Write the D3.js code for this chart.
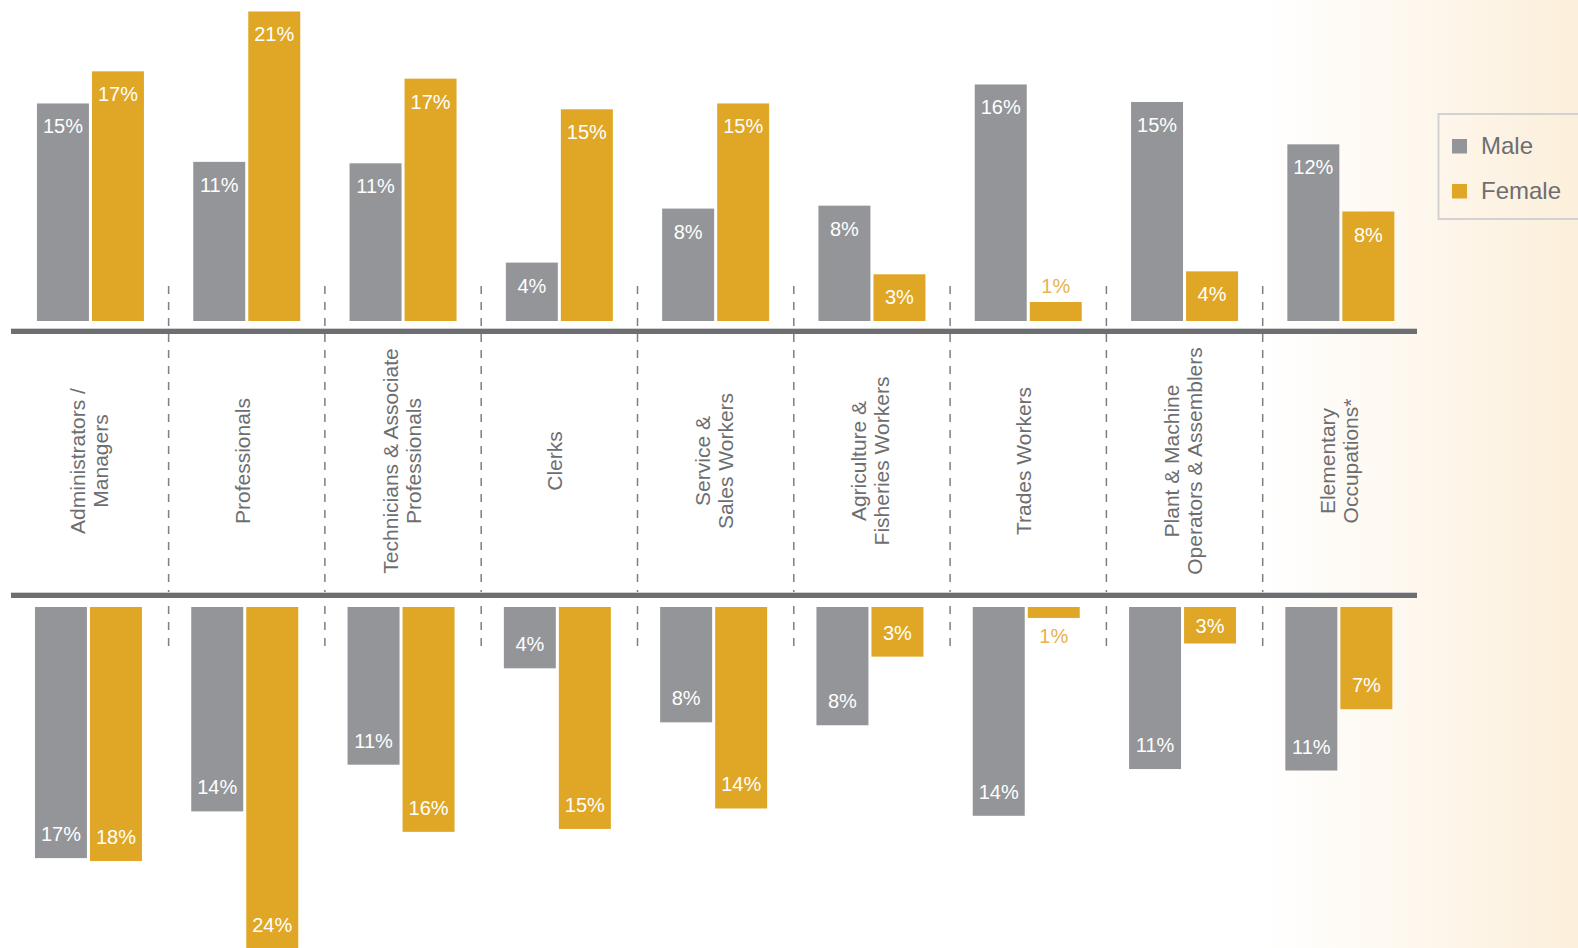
<!DOCTYPE html>
<html>
<head>
<meta charset="utf-8">
<script src="https://cdn.jsdelivr.net/npm/d3@7"></script>
<style>
  body { margin: 0; background: #fff; }
  svg { display: block; font-family: 'Liberation Sans', Arial, Helvetica, sans-serif; }
</style>
</head>
<body>
<svg width="1578" height="948"></svg>
<script>
// Occupations (label lines split with |)
const categories = [
  'Administrators /|Managers',
  'Professionals',
  'Technicians & Associate|Professionals',
  'Clerks',
  'Service &|Sales Workers',
  'Agriculture &|Fisheries Workers',
  'Trades Workers',
  'Plant & Machine|Operators & Assemblers',
  'Elementary|Occupations*'
];
const seriesKeys = ['Male', 'Female'];

// Upper panel (bar heights, %) and printed labels
const topMale = [14.9, 10.9, 10.8, 4.0, 7.7, 7.9, 16.2, 15.0, 12.1];
const topFemale = [17.1, 21.2, 16.6, 14.5, 14.9, 3.2, 1.3, 3.4, 7.5];
const topMaleLabels = ['15%', '11%', '11%', '4%', '8%', '8%', '16%', '15%', '12%'];
const topFemaleLabels = ['17%', '21%', '17%', '15%', '15%', '3%', '1%', '4%', '8%'];

// Lower panel (bar heights, %) and printed labels
const bottomMale = [17.2, 14.0, 10.8, 4.2, 7.9, 8.1, 14.3, 11.1, 11.2];
const bottomFemale = [17.4, 23.4, 15.4, 15.2, 13.8, 3.4, 0.75, 2.5, 7.0];
const bottomMaleLabels = ['17%', '14%', '11%', '4%', '8%', '8%', '14%', '11%', '11%'];
const bottomFemaleLabels = ['18%', '24%', '16%', '15%', '14%', '3%', '1%', '3%', '7%'];

const colors = { Male: '#939598', Female: '#dfa725' };

const svg = d3.select('svg');
const W = +svg.attr('width');
const H = +svg.attr('height');

// Background fade on the right
const defs = svg.append('defs');
const grad = defs
  .append('linearGradient')
  .attr('id', 'bg')
  .attr('x1', 0)
  .attr('x2', 1)
  .attr('y1', 0)
  .attr('y2', 0);
grad.append('stop').attr('offset', 0.8).attr('stop-color', '#ffffff');
grad.append('stop').attr('offset', 1).attr('stop-color', '#fcefdb');
svg
  .append('rect')
  .attr('width', W)
  .attr('height', H)
  .attr('fill', 'url(#bg)');

// Scales
const x0 = d3
  .scaleBand()
  .domain(categories)
  .range([12.3, 1419]);

const x1 = d3
  .scaleBand()
  .domain(seriesKeys)
  .range([-53.5, 53.5])
  .paddingInner(0.055);

const topBase = 321;
const bottomBase = 607;
const yTop = d3.scaleLinear().domain([0, 25]).range([topBase, topBase - 365]);
const yBottom = d3.scaleLinear().domain([0, 25]).range([bottomBase, bottomBase + 365]);

const rows = (male, female, maleLab, femaleLab) =>
  categories.map((c, i) => ({
    cat: c,
    values: [
      { key: 'Male', value: male[i], label: maleLab[i] },
      { key: 'Female', value: female[i], label: femaleLab[i] }
    ]
  }));

const topData = rows(topMale, topFemale, topMaleLabels, topFemaleLabels);
const bottomData = rows(bottomMale, bottomFemale, bottomMaleLabels, bottomFemaleLabels);

const cx = c => x0(c) + x0.bandwidth() / 2;

// Dashed dividers between groups
svg
  .append('g')
  .selectAll('line')
  .data(categories.slice(1))
  .enter()
  .append('line')
  .attr('x1', d => x0(d))
  .attr('x2', d => x0(d))
  .attr('y1', 286)
  .attr('y2', 650)
  .attr('stroke', '#7d7e81')
  .attr('stroke-width', 1.5)
  .attr('stroke-dasharray', '8,8');

// Upper bars
const topG = svg
  .append('g')
  .selectAll('g')
  .data(topData)
  .enter()
  .append('g')
  .attr('transform', d => `translate(${cx(d.cat)},0)`);

topG
  .selectAll('rect')
  .data(d => d.values)
  .enter()
  .append('rect')
  .attr('x', d => x1(d.key))
  .attr('y', d => yTop(d.value))
  .attr('width', x1.bandwidth())
  .attr('height', d => topBase - yTop(d.value))
  .attr('fill', d => colors[d.key]);

topG
  .selectAll('text')
  .data(d => d.values)
  .enter()
  .append('text')
  .attr('x', d => x1(d.key) + x1.bandwidth() / 2)
  .attr('y', d => {
    const h = topBase - yTop(d.value);
    return h < 35 ? yTop(d.value) - 9 : yTop(d.value) + 30;
  })
  .attr('text-anchor', 'middle')
  .attr('font-size', 20)
  .attr('fill', d => (topBase - yTop(d.value) < 35 ? '#e6b350' : '#fff'))
  .text(d => d.label);

// Lower bars (hang down from the second rule)
const bottomG = svg
  .append('g')
  .selectAll('g')
  .data(bottomData)
  .enter()
  .append('g')
  .attr('transform', d => `translate(${cx(d.cat) - 2},0)`);

bottomG
  .selectAll('rect')
  .data(d => d.values)
  .enter()
  .append('rect')
  .attr('x', d => x1(d.key))
  .attr('y', bottomBase)
  .attr('width', x1.bandwidth())
  .attr('height', d => yBottom(d.value) - bottomBase)
  .attr('fill', d => colors[d.key]);

bottomG
  .selectAll('text')
  .data(d => d.values)
  .enter()
  .append('text')
  .attr('x', d => x1(d.key) + x1.bandwidth() / 2)
  .attr('y', d => {
    const h = yBottom(d.value) - bottomBase;
    if (h < 25) return yBottom(d.value) + 25;
    return Math.max(yBottom(d.value) - 17, bottomBase + 26);
  })
  .attr('text-anchor', 'middle')
  .attr('font-size', 20)
  .attr('fill', d => (yBottom(d.value) - bottomBase < 25 ? '#e6b350' : '#fff'))
  .text(d => d.label);

// The two thick rules
const [rx0, rx1] = [11, 1417];
[329, 593].forEach(y => {
  svg
    .append('rect')
    .attr('x', rx0)
    .attr('y', y - 1)
    .attr('width', rx1 - rx0)
    .attr('height', 1)
    .attr('fill', '#cfcfd0');
  svg
    .append('rect')
    .attr('x', rx0)
    .attr('y', y)
    .attr('width', rx1 - rx0)
    .attr('height', 5)
    .attr('fill', '#6d6e71');
});

// Category labels, rotated, in the middle strip
const labelY = 461;
const lab = svg
  .append('g')
  .selectAll('text')
  .data(categories)
  .enter()
  .append('text')
  .attr('transform', d => `translate(${cx(d)},${labelY}) rotate(-90)`)
  .attr('text-anchor', 'middle')
  .attr('font-size', 21)
  .attr('fill', '#6d6e71');

lab
  .selectAll('tspan')
  .data(d => {
    const lines = d.split('|');
    const off = lines.length === 1 ? 3 : 6;
    return lines.map((t, i) => ({ t, dy: off + (i - (lines.length - 1) / 2) * 23 }));
  })
  .enter()
  .append('tspan')
  .attr('x', 0)
  .attr('y', d => d.dy)
  .text(d => d.t);

// Legend
const legend = svg.append('g');
legend
  .append('rect')
  .attr('x', 1438.5)
  .attr('y', 114)
  .attr('width', 160)
  .attr('height', 105)
  .attr('fill', 'none')
  .attr('stroke', '#d2d2d2')
  .attr('stroke-width', 2);

const items = legend
  .selectAll('g')
  .data(seriesKeys)
  .enter()
  .append('g')
  .attr('transform', (d, i) => `translate(1452,${139 + i * 45})`);

items
  .append('rect')
  .attr('width', 15)
  .attr('height', 14.5)
  .attr('fill', d => colors[d]);

items
  .append('text')
  .attr('x', 29)
  .attr('y', 14.5)
  .attr('font-size', 24)
  .attr('fill', '#6d6e71')
  .text(d => d);
</script>
</body>
</html>
